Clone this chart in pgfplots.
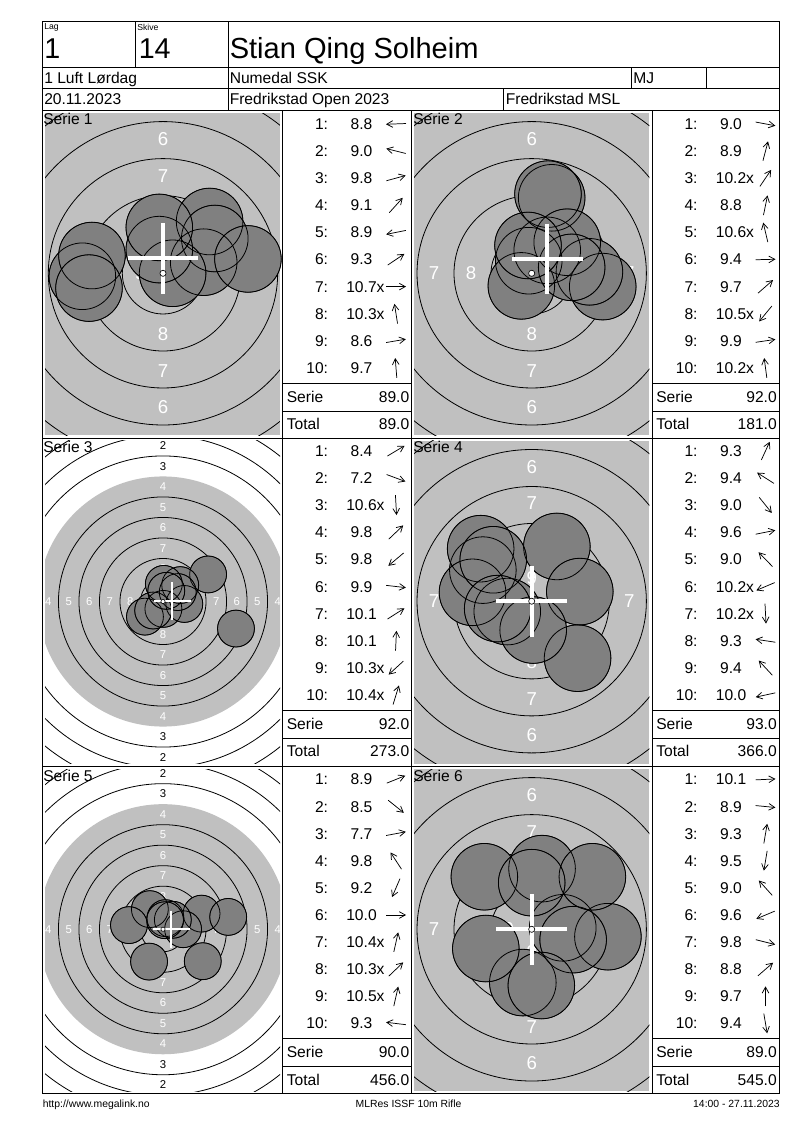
\documentclass[border=0pt]{standalone}
\usepackage{fontspec}
\setmainfont{Liberation Sans}
\usepackage{pgfplots}
\usepackage{pgfplotstable}
\pgfplotsset{compat=1.18}
\usetikzlibrary{arrows.meta,calc}
\definecolor{tgray}{HTML}{C0C0C0}
\definecolor{sgray}{HTML}{808080}

% shot positions in mm (x right, y up)
\pgfplotstableread{
x y
-5.45 -0.2
-4.8 1.2
2.75 0.75
3.15 3.5
-5.0 -1.0
3.5 2.35
0.65 0.0
-0.25 1.6
5.74 0.97
-0.25 3.1
}\serA
\pgfplotstableread{
x y
4.8 -0.9
1.35 5.1
1.05 1.55
1.1 5.35
-0.2 0.85
3.9 0.1
2.4 2.1
-0.7 -0.85
2.7 0.4
-0.25 1.88
}\serB
\pgfplotstableread{
x y
5.5 3.3
8.9 -3.3
0.05 -0.9
2.1 2.0
-2.2 -1.85
2.6 -0.3
1.8 1.15
0.1 2.15
-1.2 -1.1
0.4 1.3
}\serC
\pgfplotstableread{
x y
1.7 3.7
-3.3 2.1
3.1 -3.85
3.25 0.65
-3.45 3.55
-1.65 -0.7
0.1 -1.95
-4.0 0.6
-2.6 2.8
-2.3 -0.5
}\serD
\pgfplotstableread{
x y
4.7 1.9
4.85 -3.9
7.95 1.5
-1.6 2.45
-1.7 -3.95
2.45 0.0
0.3 1.35
1.2 1.15
0.25 1.1
-4.15 0.5
}\serE
\pgfplotstableread{
x y
2.1 0.1
5.15 -0.5
0.7 4.1
-0.6 -3.6
-3.2 3.55
-3.1 -1.3
2.8 -0.7
4.1 3.55
0.0 3.15
0.65 -3.8
}\serF

\newcommand\tabfont{\fontsize{11.7}{13}\selectfont}
\tikzset{
  ring/.style={black,line width=0.6pt},
  zl/.style={text=white,font=\fontsize{14}{14}\selectfont,inner sep=0},
  wl/.style={text=white,font=\fontsize{8.5}{9}\selectfont,inner sep=0},
  wb/.style={text=black,font=\fontsize{8.5}{9}\selectfont,inner sep=0},
}
\pgfplotsset{
  tgt/.style={anchor=north west, clip=true, axis line style={draw=none},
    xtick=\empty, ytick=\empty, tick style={draw=none}},
  zoomed/.style={x=11.1pt,y=11.1pt},
  wide/.style={x=6.15pt,y=6.15pt},
}
\newcommand\lab[3]{% style, radius, text
  \node[#1] at (axis cs:0,#2) {#3}; \node[#1] at (axis cs:0,-#2) {#3};
  \node[#1] at (axis cs:#2,0) {#3}; \node[#1] at (axis cs:-#2,0) {#3};}

\newcommand\zoomedcontent[2]{%
  \fill[tgray] (rel axis cs:0,0) rectangle (rel axis cs:1,1);
  \lab{zl}{9.05}{6}\lab{zl}{6.6}{7}\lab{zl}{4.1}{8}\lab{zl}{1.55}{9}
  \addplot[only marks, mark=*, mark size=24.98pt, mark options={fill=sgray, draw=none}] table[x=x,y=y] {#1};
  \draw[ring] (axis cs:0,0) circle[radius=2.75];
  \draw[ring] (axis cs:0,0) circle[radius=5.25];
  \draw[ring] (axis cs:0,0) circle[radius=7.75];
  \draw[ring] (axis cs:0,0) circle[radius=10.25];
  \draw[ring] (axis cs:0,0) circle[radius=12.75];
  \addplot[only marks, black, mark=o, mark size=24.98pt, mark options={draw=black, line width=0.6pt}] table[x=x,y=y] {#1};
  \addplot[only marks, mark=+, mark size=26.5pt, mark options={draw=white, line width=3pt}] coordinates {#2};
  \addplot[only marks, mark=*, mark size=2.3pt, mark options={fill=white, draw=black, line width=0.5pt}] coordinates {(0,0)};
}
\newcommand\widecontent[2]{%
  \fill[white] (rel axis cs:0,0) rectangle (rel axis cs:1,1);
  \fill[tgray] (axis cs:0,0) circle[radius=15.25];
  \lab{wb}{19.0}{2}\lab{wb}{16.5}{3}
  \lab{wl}{14.0}{4}\lab{wl}{11.5}{5}\lab{wl}{9.0}{6}\lab{wl}{6.5}{7}\lab{wl}{4.0}{8}
  \addplot[only marks, mark=*, mark size=13.84pt, mark options={fill=sgray, draw=none}] table[x=x,y=y] {#1};
  \draw[ring] (axis cs:0,0) circle[radius=2.75];
  \draw[ring] (axis cs:0,0) circle[radius=5.25];
  \draw[ring] (axis cs:0,0) circle[radius=7.75];
  \draw[ring] (axis cs:0,0) circle[radius=10.25];
  \draw[ring] (axis cs:0,0) circle[radius=12.75];
  \draw[ring] (axis cs:0,0) circle[radius=17.75];
  \draw[ring] (axis cs:0,0) circle[radius=20.25];
  \draw[ring] (axis cs:0,0) circle[radius=22.75];
  \addplot[only marks, black, mark=o, mark size=13.84pt, mark options={draw=black, line width=0.6pt}] table[x=x,y=y] {#1};
  \addplot[only marks, mark=+, mark size=14pt, mark options={draw=white, line width=1.6pt}] coordinates {#2};
  \addplot[only marks, mark=*, mark size=1.6pt, mark options={fill=white, draw=black, line width=0.45pt}] coordinates {(0,0)};
}

% score table: #1 left px, #2 top px, #3 table, #4 scores, #5 serie, #6 total, #7 width px
\newcommand{\scoretable}[7]{%
\begin{scope}[x=0.75pt,y=-0.75pt]
  \foreach \v/\m [count=\i from 0] in {#4} {%
    \pgfmathsetmacro\ry{#2+12.9+27.12*\i}%
    \node[anchor=base east,inner sep=0,font=\tabfont] at ({#1+45.8},{\ry+5.5}) {\the\numexpr\i+1\relax:};
    \node[anchor=base,inner sep=0,font=\tabfont] at ({#1+79},{\ry+5.5}) {\v\rlap{\m}};
    \pgfplotstablegetelem{\i}{x}\of#3\let\xx\pgfplotsretval
    \pgfplotstablegetelem{\i}{y}\of#3\let\yy\pgfplotsretval
    \pgfmathsetmacro\ang{atan2(\yy,\xx)}%
    \draw[line width=0.55pt,-{Straight Barb[length=4.5pt,width=5pt]}] ({#1+113.5-10*cos(\ang)},{\ry+10*sin(\ang)}) -- ++({20*cos(\ang)},{-20*sin(\ang)});
  }
  \draw[line width=0.75pt] (#1,#2+272.3) -- ++(#7,0) (#1,#2+300) -- ++(#7,0);
  \node[anchor=base west,inner sep=0,font=\tabfont] at (#1+4,#2+291) {Serie};
  \node[anchor=base east,inner sep=0,font=\tabfont] at (#1+#7-2,#2+291) {#5};
  \node[anchor=base west,inner sep=0,font=\tabfont] at (#1+4,#2+318.5) {Total};
  \node[anchor=base east,inner sep=0,font=\tabfont] at (#1+#7-2,#2+318.5) {#6};
\end{scope}}

\begin{document}
\begin{tikzpicture}
\fill[white] (0,0) rectangle (600pt,-847.5pt);

% Serie 1
\begin{axis}[tgt, zoomed, at={(33.75pt,-85.125pt)}, xmin=-7.973, xmax=7.905, ymin=-10.959, ymax=10.797]
\zoomedcontent{\serA}{(0,1.0)}
\end{axis}
% Serie 2
\begin{axis}[tgt, zoomed, at={(310.5pt,-85.125pt)}, xmin=-7.953, xmax=7.959, ymin=-10.959, ymax=10.797]
\zoomedcontent{\serB}{(1.05,0.97)}
\end{axis}
% Serie 3
\begin{axis}[tgt, wide, at={(33.75pt,-330.375pt)}, xmin=-14.39, xmax=14.268, ymin=-19.756, ymax=19.634]
\widecontent{\serC}{(1.13,0.08)}
\end{axis}
% Serie 4
\begin{axis}[tgt, zoomed, at={(310.5pt,-330.375pt)}, xmin=-7.953, xmax=7.959, ymin=-10.966, ymax=10.858]
\zoomedcontent{\serD}{(0,0)}
\end{axis}
% Serie 5
\begin{axis}[tgt, wide, at={(33.75pt,-576.75pt)}, xmin=-14.39, xmax=14.268, ymin=-19.732, ymax=19.537]
\widecontent{\serE}{(1.02,0)}
\end{axis}
% Serie 6
\begin{axis}[tgt, zoomed, at={(310.5pt,-576.75pt)}, xmin=-7.953, xmax=7.959, ymin=-10.926, ymax=10.831]
\zoomedcontent{\serF}{(0,0)}
\end{axis}

\scoretable{282.5}{111}{\serA}{8.8/{},9.0/{},9.8/{},9.1/{},8.9/{},9.3/{},10.7/x,10.3/x,8.6/{},9.7/{}}{89.0}{89.0}{129}
\scoretable{652}{111}{\serB}{9.0/{},8.9/{},10.2/x,8.8/{},10.6/x,9.4/{},9.7/{},10.5/x,9.9/{},10.2/x}{92.0}{181.0}{127}
\scoretable{282.5}{438}{\serC}{8.4/{},7.2/{},10.6/x,9.8/{},9.8/{},9.9/{},10.1/{},10.1/{},10.3/x,10.4/x}{92.0}{273.0}{129}
\scoretable{652}{438}{\serD}{9.3/{},9.4/{},9.0/{},9.6/{},9.0/{},10.2/x,10.2/x,9.3/{},9.4/{},10.0/{}}{93.0}{366.0}{127}
\scoretable{282.5}{766.5}{\serE}{8.9/{},8.5/{},7.7/{},9.8/{},9.2/{},10.0/{},10.4/x,10.3/x,10.5/x,9.3/{}}{90.0}{456.0}{129}
\scoretable{652}{766.5}{\serF}{10.1/{},8.9/{},9.3/{},9.5/{},9.0/{},9.6/{},9.8/{},8.8/{},9.7/{},9.4/{}}{89.0}{545.0}{127}

\begin{scope}[x=0.75pt,y=-0.75pt]
  \draw[line width=0.75pt] (42.5,22) rectangle (779,1093.5);
  \draw[line width=0.75pt] (42.5,68) -- (779,68) (42.5,89) -- (779,89) (42.5,111) -- (779,111)
     (42.5,438) -- (779,438) (42.5,766.5) -- (779,766.5);
  \draw[line width=0.75pt] (135,22) -- (135,68) (228,22) -- (228,111) (631,68) -- (631,89)
     (706,68) -- (706,89) (503,89) -- (503,111)
     (282.5,111) -- (282.5,1093.5) (411.5,111) -- (411.5,1093.5) (652,111) -- (652,1093.5);
  \node[anchor=north west,inner sep=0,font=\fontsize{6.5}{7}\selectfont] at (44,23.5) {Lag};
  \node[anchor=north west,inner sep=0,font=\fontsize{6.5}{7}\selectfont] at (137,23.5) {Skive};
  \node[anchor=base west,inner sep=0,font=\fontsize{21.5}{24}\selectfont] at (44,59) {1};
  \node[anchor=base west,inner sep=0,font=\fontsize{21.5}{24}\selectfont] at (138.5,59) {14};
  \node[anchor=base west,inner sep=0,font=\fontsize{21.8}{24}\selectfont] at (229.5,59) {Stian Qing Solheim};
  \node[anchor=base west,inner sep=0,font=\tabfont] at (44,83.5) {1 Luft Lørdag};
  \node[anchor=base west,inner sep=0,font=\tabfont] at (229.5,83.5) {Numedal SSK};
  \node[anchor=base west,inner sep=0,font=\tabfont] at (633,83.5) {MJ};
  \node[anchor=base west,inner sep=0,font=\tabfont] at (44,105) {20.11.2023};
  \node[anchor=base west,inner sep=0,font=\tabfont] at (229.5,105) {Fredrikstad Open 2023};
  \node[anchor=base west,inner sep=0,font=\tabfont] at (505.5,105) {Fredrikstad MSL};
  \node[anchor=base west,inner sep=0,font=\tabfont] at (43,124.5) {Serie 1};
  \node[anchor=base west,inner sep=0,font=\tabfont] at (413,124.5) {Serie 2};
  \node[anchor=base west,inner sep=0,font=\tabfont] at (43,452) {Serie 3};
  \node[anchor=base west,inner sep=0,font=\tabfont] at (413,452) {Serie 4};
  \node[anchor=base west,inner sep=0,font=\tabfont] at (43,781) {Serie 5};
  \node[anchor=base west,inner sep=0,font=\tabfont] at (413,781) {Serie 6};
  \node[anchor=base west,inner sep=0,font=\fontsize{7.8}{9}\selectfont] at (42.5,1107) {http://www.megalink.no};
  \node[anchor=base,inner sep=0,font=\fontsize{7.8}{9}\selectfont] at (408.6,1107) {MLRes ISSF 10m Rifle};
  \node[anchor=base east,inner sep=0,font=\fontsize{7.8}{9}\selectfont] at (780,1107) {14:00 - 27.11.2023};
\end{scope}
\end{tikzpicture}
\end{document}
